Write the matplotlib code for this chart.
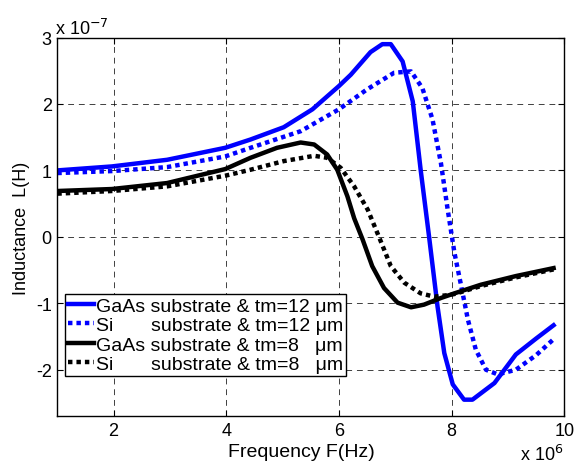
import matplotlib
matplotlib.use("Agg")
import matplotlib.pyplot as plt

plt.rcParams['font.family'] = ['Liberation Sans', 'DejaVu Sans']

# Frequency (x 1e6 Hz) and inductance (x 1e-7 H)
f_gaas12 = [1.0, 1.97, 2.95, 3.98, 4.43, 5.02, 5.53, 6.0, 6.21, 6.56, 6.77, 6.92, 7.13, 7.31, 7.45,
            7.60, 7.75, 7.87, 8.02, 8.22, 8.37, 8.76, 9.14, 9.5, 9.81]
L_gaas12 = [1.0, 1.06, 1.16, 1.34, 1.465, 1.65, 1.92, 2.27, 2.44, 2.78, 2.90, 2.90, 2.64, 2.04, 1.01,
            0.0, -1.05, -1.75, -2.22, -2.45, -2.45, -2.20, -1.77, -1.53, -1.33]

f_si12 = [1.0, 1.97, 2.95, 3.98, 4.43, 5.32, 6.0, 6.5, 6.98, 7.28, 7.48, 7.66, 7.81, 7.93, 8.05,
          8.17, 8.29, 8.43, 8.61, 8.82, 9.14, 9.5, 9.81]
L_si12 = [0.96, 0.99, 1.05, 1.21, 1.34, 1.59, 1.92, 2.22, 2.47, 2.49, 2.24, 1.77, 1.11, 0.41, -0.24,
          -0.74, -1.25, -1.70, -2.0, -2.07, -2.0, -1.78, -1.54]

f_gaas8 = [1.0, 1.97, 2.95, 3.98, 4.43, 4.90, 5.32, 5.56, 5.79, 5.97, 6.15, 6.27, 6.42, 6.59, 6.80,
           7.04, 7.28, 7.51, 7.81, 8.05, 8.52, 9.14, 9.81]
L_gaas8 = [0.69, 0.72, 0.81, 1.02, 1.19, 1.34, 1.42, 1.39, 1.24, 1.01, 0.61, 0.28, -0.04, -0.44, -0.77,
           -0.99, -1.06, -1.02, -0.92, -0.85, -0.72, -0.59, -0.47]

f_si8 = [1.0, 1.97, 2.95, 3.98, 4.43, 5.02, 5.56, 5.79, 6.03, 6.27, 6.51, 6.71, 6.92, 7.16, 7.45,
         7.69, 7.90, 8.05, 8.52, 9.14, 9.81]
L_si8 = [0.65, 0.69, 0.76, 0.92, 1.01, 1.14, 1.22, 1.19, 1.04, 0.76, 0.41, 0.0, -0.44, -0.69, -0.85,
         -0.90, -0.88, -0.86, -0.74, -0.61, -0.49]

labels = ["GaAs substrate & tm=12 \u03bcm",
          "Si       substrate & tm=12 \u03bcm",
          "GaAs substrate & tm=8   \u03bcm",
          "Si       substrate & tm=8   \u03bcm"]

x_ticks = [2, 4, 6, 8, 10]
y_ticks = [-2, -1, 0, 1, 2, 3]

fig = plt.figure(figsize=(5.74, 4.64), dpi=100)
ax = fig.add_axes([0.0998, 0.1007, 0.8833, 0.8163])

lw = 3.2
ax.plot(f_gaas12, L_gaas12, color='#0000ff', lw=lw, label=labels[0])
ax.plot(f_si12, L_si12, color='#0000ff', lw=lw, linestyle=(0, (1, 0.9)), label=labels[1])
ax.plot(f_gaas8, L_gaas8, color='black', lw=lw, label=labels[2])
ax.plot(f_si8, L_si8, color='black', lw=lw, linestyle=(0, (1, 0.9)), label=labels[3])

ax.set_xlim(1, 10)
ax.set_ylim(-2.7, 3)
ax.set_xticks(x_ticks)
ax.set_yticks(y_ticks)
ax.set_xticklabels([str(t) for t in x_ticks])
ax.set_yticklabels([str(t) for t in y_ticks])
ax.tick_params(direction='in', labelsize=13, length=4, top=True, right=True, pad=4)
ax.grid(True, color='black', linestyle=(0, (6, 5)), linewidth=0.7, alpha=0.75)
for s in ax.spines.values():
    s.set_linewidth(1.0)

ax.set_xlabel("Frequency F(Hz)", fontsize=14)
ax.xaxis.set_label_coords(0.482, -0.093)
ax.xaxis.label.set_verticalalignment('center')
ax.set_ylabel("Inductance  L(H)", fontsize=13)
ax.yaxis.set_label_coords(-0.0706, 0.5)
ax.yaxis.label.set_verticalalignment('center')

fig.text(0.0958, 0.9246, r"x 10$^{-7}$", fontsize=13, ha='left', va='baseline')
fig.text(0.981, 0.006, r"x 10$^{6}$", fontsize=13, ha='right', va='baseline')

leg = ax.legend(loc='lower left', bbox_to_anchor=(0.015, 0.106), fontsize=14,
                frameon=True, fancybox=False, edgecolor='black', framealpha=1,
                handlelength=1.35, handletextpad=0.1, borderpad=0.15, labelspacing=0.1,
                borderaxespad=0)
leg.get_frame().set_linewidth(1.0)

fig.savefig("out.png", dpi=100)
